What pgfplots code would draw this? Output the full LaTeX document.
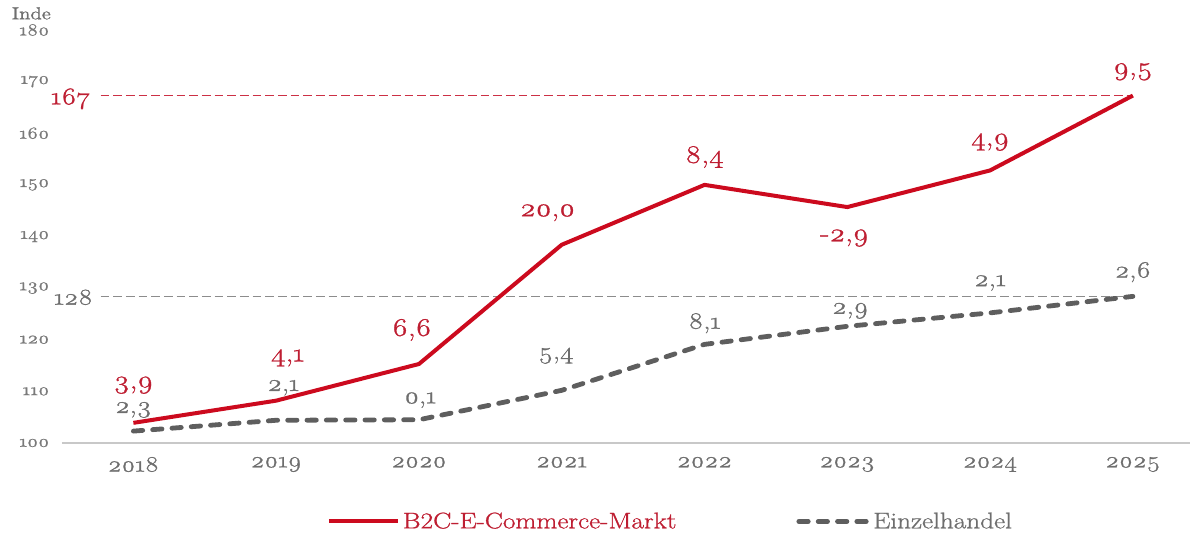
\documentclass[border=0pt]{standalone}
\usepackage{fontspec}
\setmainfont{Latin Modern Roman}[Numbers=OldStyle, FakeStretch=1.2, FakeBold=1.2]
\newfontfamily\legendfont{Latin Modern Roman}[Numbers=Lining, FakeStretch=1.2, FakeBold=1.0]
\usepackage{pgfplots}
\pgfplotsset{compat=1.18}
\usetikzlibrary{calc}

\definecolor{ecred}{HTML}{CC0A1E}
\definecolor{ecredtxt}{HTML}{BE1E32}
\definecolor{ecredref}{HTML}{CC3045}
\definecolor{rtgray}{HTML}{5E5E5E}
\definecolor{rtgraytxt}{HTML}{6E6E6E}
\definecolor{refgray}{HTML}{8C8C8C}
\definecolor{ticktxt}{HTML}{7A7A7A}
\definecolor{baseline}{HTML}{C8C8C8}

\newcommand{\lgtext}[2]{\legendfont\fontsize{17}{19}\selectfont\textcolor{#1}{#2}}

\begin{document}
\begin{tikzpicture}
\begin{axis}[
  name=ax,
  scale only axis,
  width=846pt, height=309.75pt,
  xmin=2017.5, xmax=2025.4,
  ymin=100, ymax=180,
  clip=false,
  axis x line*=bottom,
  axis y line*=left,
  x axis line style={draw=baseline, line width=1pt},
  y axis line style={draw=none},
  major tick length=0pt,
  xtick={2018,2019,...,2025},
  ytick={100,110,...,180},
  /pgf/number format/1000 sep={},
  /pgf/number format/assume math mode=true,
  xticklabel style={font=\fontsize{16.5}{18}\selectfont, text=rtgraytxt, yshift=-7pt},
  yticklabel style={font=\fontsize{12.5}{14}\selectfont, text=ticktxt, xshift=-6pt},
  legend style={at={(0.231,-0.19)}, anchor=west, draw=none, fill=none,
    legend columns=2,
    /tikz/every even column/.append style={column sep=88pt}},
  legend image code/.code={\draw[#1] (0pt,0pt) -- (52pt,0pt);},
]
% reference levels for 2025
\addplot[ecredref, solid, line width=1.3pt, dash pattern=on 6.5pt off 3pt, forget plot]
  coordinates {(2017.77,167.3) (2025,167.3)};
\addplot[refgray, solid, line width=1pt, dash pattern=on 6.5pt off 3pt, forget plot]
  coordinates {(2017.77,128.4) (2025,128.4)};

% index series (2017 = 100)
\addplot[ecred, line width=3pt, line join=round]
  coordinates {(2018,103.9) (2019,108.2) (2020,115.3) (2021,138.4)
               (2022,150.0) (2023,145.7) (2024,152.8) (2025,167.3)};
\addlegendentry{\lgtext{ecredtxt}{B2C-E-Commerce-Markt}}
\addplot[rtgray, line width=3.6pt, line cap=round, dash pattern=on 7pt off 7.5pt]
  coordinates {(2018,102.3) (2019,104.4) (2020,104.5) (2021,110.2)
               (2022,119.1) (2023,122.6) (2024,125.2) (2025,128.4)};
\addlegendentry{\lgtext{rtgraytxt}{Einzelhandel}}

% axis caption and reference values
\node[text=rtgraytxt, font=\fontsize{13}{15}\selectfont] at (rel axis cs:0,1) [xshift=-23pt, yshift=12.5pt] {Inde};
\node[text=ecredtxt, font=\fontsize{18}{20}\selectfont, anchor=base] at (axis cs:2017.56,165.6) {167};
\node[text=rtgraytxt, font=\fontsize{17}{19}\selectfont, anchor=base] at (axis cs:2017.58,126.8) {128};

% growth rates in percent
\begin{scope}[every node/.style={text=ecredtxt, font=\fontsize{19}{21}\selectfont}]
\node at (axis cs:2018,111.2) {3,9};
\node at (axis cs:2019.08,116.5) {4,1};
\node at (axis cs:2019.95,121.9) {6,6};
\node at (axis cs:2020.9,144.6) {20,0};
\node at (axis cs:2022,155.4) {8,4};
\node at (axis cs:2022.98,139.7) {-2,9};
\node at (axis cs:2024,158.3) {4,9};
\node at (axis cs:2025,171.9) {9,5};
\end{scope}
\begin{scope}[every node/.style={text=rtgraytxt, font=\fontsize{17.5}{19}\selectfont}]
\node at (axis cs:2018,106.4) {2,3};
\node at (axis cs:2019.05,110.7) {2,1};
\node at (axis cs:2020.01,108.3) {0,1};
\node at (axis cs:2020.96,116.9) {5,4};
\node at (axis cs:2022,123.2) {8,1};
\node at (axis cs:2023.02,125.6) {2,9};
\node at (axis cs:2024,131.0) {2,1};
\node at (axis cs:2025,133.1) {2,6};
\end{scope}

\coordinate (BL) at (rel axis cs:0,0);
\coordinate (TR) at (rel axis cs:1,1);
\end{axis}
\pgfresetboundingbox
\path ($(BL)+(-46.5pt,-74.25pt)$) rectangle ($(TR)+(0.75pt,22.5pt)$);
\end{tikzpicture}
\end{document}
